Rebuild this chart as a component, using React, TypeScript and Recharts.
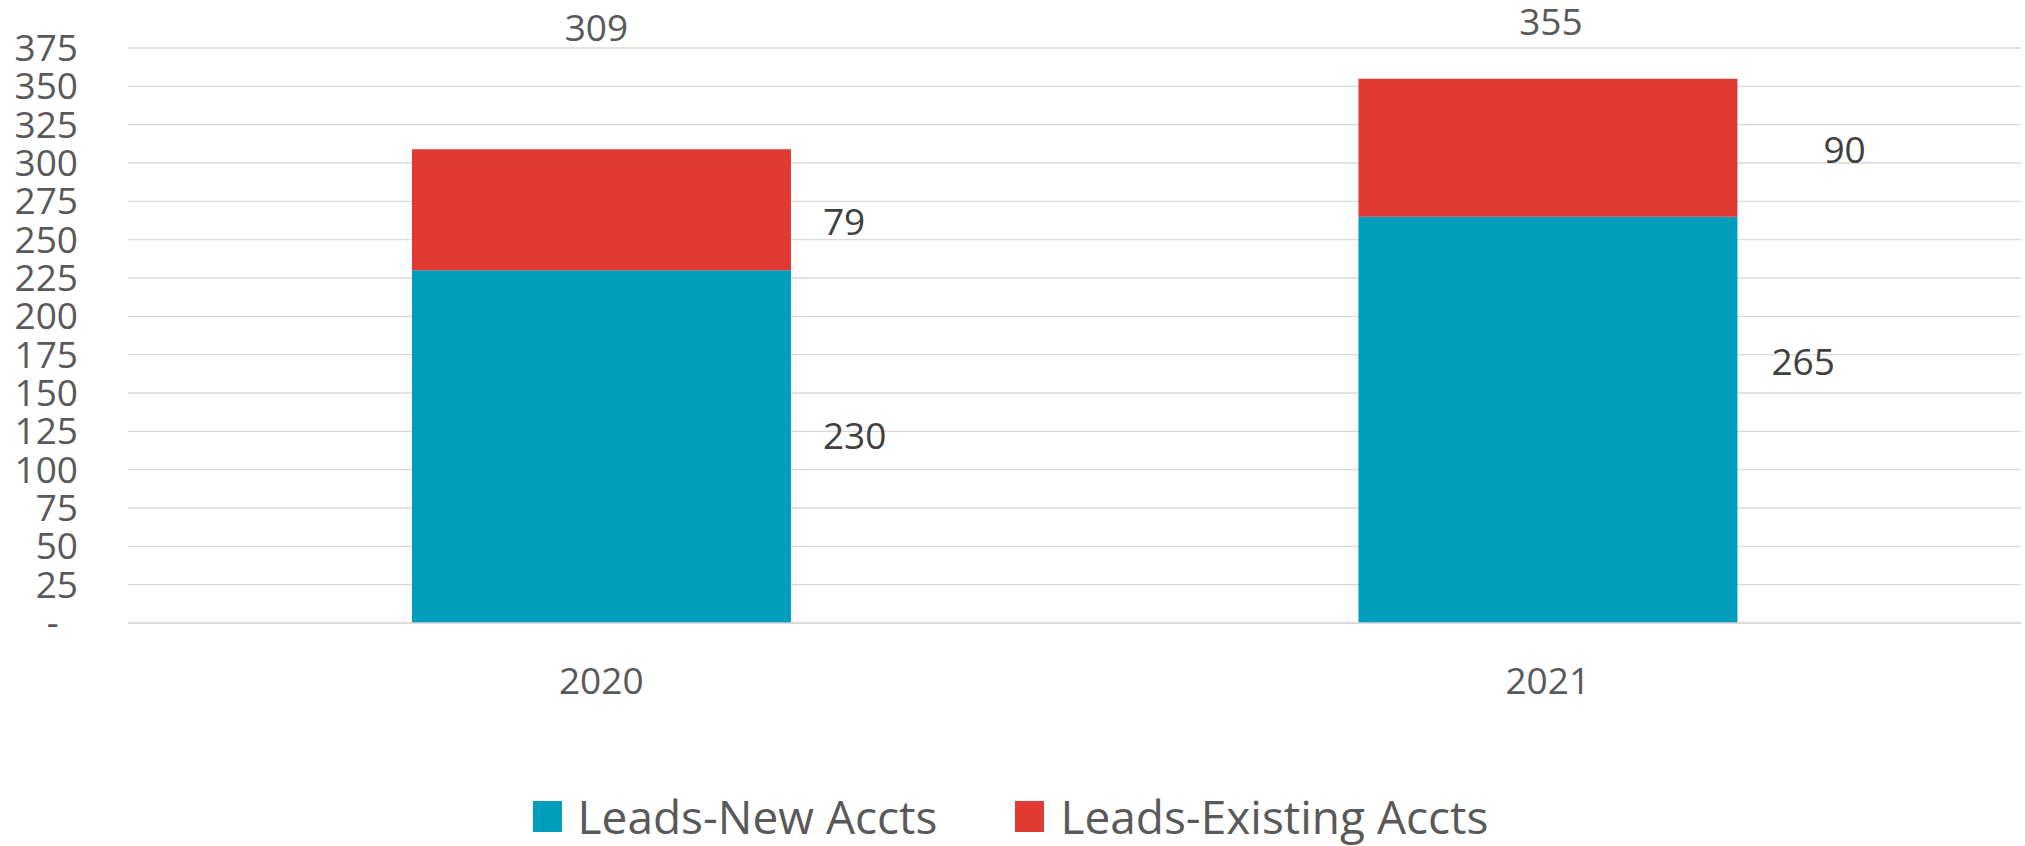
import React from "react";
import {
  Bar,
  BarChart,
  CartesianGrid,
  LabelList,
  Legend,
  XAxis,
  YAxis,
} from "recharts";

const years = ["2020", "2021"];
const leadsNew = [230, 265];
const leadsExisting = [79, 90];
const yTicks = [0, 25, 50, 75, 100, 125, 150, 175, 200, 225, 250, 275, 300, 325, 350, 375];

const Y_MAX = 375;
const FONT = "'Open Sans', 'DejaVu Sans', sans-serif";
const BLUE = "#009DBD";
const RED = "#E03A33";
const GREY = "#595959";

const data = years.map((year, i) => ({
  year,
  newAccts: leadsNew[i],
  existingAccts: leadsExisting[i],
}));

// label nudges (Excel labels were dragged by hand)
const newLabelShift = [
  { dx: 32, dy: -11 },
  { dx: 34, dy: -58 },
];
const existingLabelShift = [
  { dx: 32, dy: 12 },
  { dx: 86, dy: 2 },
];
const totalLabelShift = [
  { dx: -5, dy: -20 },
  { dx: 3, dy: -26 },
];

const box = (props: any) => {
  const vb = props.viewBox ?? props;
  return {
    x: Number(vb.x ?? props.x),
    y: Number(vb.y ?? props.y),
    width: Number(vb.width ?? props.width),
    height: Number(vb.height ?? props.height),
  };
};

const segmentLabel = (shift: { dx: number; dy: number }[], values: number[]) =>
  (props: any) => {
    const { x, y, width, height } = box(props);
    const i = props.index ?? 0;
    return (
      <text
        x={x + width + shift[i].dx}
        y={y + height / 2 + shift[i].dy}
        dy="0.355em"
        textAnchor="start"
        fill="#404040"
        fontSize={37}
        fontFamily={FONT}
      >
        {values[i]}
      </text>
    );
  };

const totalLabel = (props: any) => {
  const { x, y, width, height } = box(props);
  const i = props.index ?? 0;
  const total = leadsNew[i] + leadsExisting[i];
  const pxPerUnit = Math.abs(height) / leadsExisting[i];
  const plotTop = y - (Y_MAX - total) * pxPerUnit;
  return (
    <text
      x={x + width / 2 + totalLabelShift[i].dx}
      y={plotTop + totalLabelShift[i].dy}
      dy="0.355em"
      textAnchor="middle"
      fill={GREY}
      fontSize={37}
      fontFamily={FONT}
    >
      {total}
    </text>
  );
};

const LegendBox = () => {
  const items = [
    { label: "Leads-New Accts", color: BLUE },
    { label: "Leads-Existing Accts", color: RED },
  ];
  return (
    <div
      style={{
        height: 60,
        display: "flex",
        alignItems: "center",
        justifyContent: "center",
        gap: 78,
        fontFamily: FONT,
        fontSize: 46,
        color: GREY,
      }}
    >
      {items.map((it) => (
        <div key={it.label} style={{ display: "flex", alignItems: "center" }}>
          <span
            style={{
              width: 29,
              height: 31,
              background: it.color,
              marginRight: 16,
              display: "inline-block",
            }}
          />
          <span style={{ lineHeight: "60px" }}>{it.label}</span>
        </div>
      ))}
    </div>
  );
};

export default function App() {
  return (
    <div style={{ width: 2025, height: 846, background: "#fff" }}>
      <style>{"body{margin:0}"}</style>
      <BarChart
        width={2025}
        height={846}
        data={data}
        margin={{ top: 48, right: 4, left: 0, bottom: 0 }}
        barCategoryGap="30%"
      >
        <CartesianGrid vertical={false} stroke="#D9D9D9" strokeWidth={1.4} />
        <XAxis
          dataKey="year"
          height={163}
          axisLine={{ stroke: "#D9D9D9", strokeWidth: 1.4 }}
          tickLine={false}
          tickSize={0}
          tickMargin={45}
          tick={{ fill: GREY, fontSize: 37, fontFamily: FONT }}
        />
        <YAxis
          width={128}
          domain={[0, Y_MAX]}
          ticks={yTicks}
          interval={0}
          axisLine={false}
          tickLine={false}
          tickSize={0}
          tickMargin={50}
          tick={{ fill: GREY, fontSize: 37, fontFamily: FONT }}
          tickFormatter={(v: number) => (v === 0 ? "-\u00A0\u00A0" : String(v))}
        />
        <Legend verticalAlign="bottom" content={() => <LegendBox />} />
        <Bar
          dataKey="newAccts"
          name="Leads-New Accts"
          stackId="a"
          fill={BLUE}
          isAnimationActive={false}
        >
          <LabelList
            dataKey="newAccts"
            content={segmentLabel(newLabelShift, leadsNew)}
          />
        </Bar>
        <Bar
          dataKey="existingAccts"
          name="Leads-Existing Accts"
          stackId="a"
          fill={RED}
          isAnimationActive={false}
        >
          <LabelList
            dataKey="existingAccts"
            content={segmentLabel(existingLabelShift, leadsExisting)}
          />
          <LabelList dataKey="existingAccts" content={totalLabel} />
        </Bar>
      </BarChart>
    </div>
  );
}
